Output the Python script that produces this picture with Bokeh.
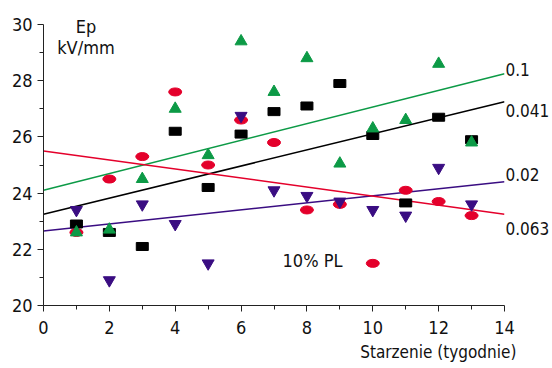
from bokeh.plotting import figure
from bokeh.models import FixedTicker, Label, Range1d, LinearAxis
from bokeh.embed import file_html
from bokeh.resources import INLINE

FONT = "Liberation Sans Narrow, DejaVu Sans Condensed, Roboto, sans-serif"

weeks = [1, 2, 3, 4, 5, 6, 7, 8, 9, 10, 11, 12, 13]
series_01 = [22.6, 22.7, 24.5, 27.0, 25.35, 29.4, 27.6, 28.8, 25.05, 26.3, 26.6, 28.6, 25.8]   # green triangles
series_0041 = [22.9, 22.6, 22.1, 26.2, 24.2, 26.1, 26.9, 27.1, 27.9, 26.05, 23.65, 26.7, 25.9]  # black squares
series_002 = [23.4, 20.9, 23.6, 22.9, 21.5, 26.75, 24.1, 23.9, 23.7, 23.4, 23.2, 24.9, 23.6]    # purple inverted triangles
series_0063 = [22.6, 24.5, 25.3, 27.6, 25.0, 26.6, 25.8, 23.4, 23.6, 21.5, 24.1, 23.7, 23.2]    # red ellipses

trend_x = [0, 14]
trend_01 = [24.1, 28.25]
trend_0041 = [23.25, 27.25]
trend_002 = [22.65, 24.4]
trend_0063 = [25.5, 23.25]

labels = ["0.1", "0.041", "0.02", "0.063"]
x_ticks = [0, 2, 4, 6, 8, 10, 12, 14]
y_ticks = [20, 22, 24, 26, 28, 30]

GREEN = "#0c9a46"
BLACK = "#000000"
PURPLE = "#3a0d82"
RED = "#e4002b"
TXT = "#111111"

p = figure(width=552, height=368, output_backend="svg", toolbar_location=None,
           x_range=Range1d(0, 14), y_range=Range1d(20, 30),
           min_border_left=43, min_border_right=47, min_border_top=24, min_border_bottom=63)
p.outline_line_color = None
p.xgrid.visible = False
p.ygrid.visible = False
p.background_fill_color = "white"
p.border_fill_color = "white"

for ax in (p.xaxis, p.yaxis):
    ax.axis_line_color = "#222222"
    ax.major_tick_line_color = "#222222"
    ax.minor_tick_line_color = "#222222"
    ax.major_tick_in = 0
    ax.minor_tick_in = 0
    ax.major_tick_out = 6
    ax.minor_tick_out = 4
    ax.major_label_text_font = FONT
    ax.major_label_text_font_size = "18px"
    ax.major_label_text_color = TXT

p.xaxis.ticker = FixedTicker(ticks=x_ticks, minor_ticks=[t + 1 for t in x_ticks[:-1]])
p.yaxis.ticker = FixedTicker(ticks=y_ticks, minor_ticks=[t + 1 for t in y_ticks[:-1]])
p.xaxis.major_label_standoff = 9
p.yaxis.major_label_standoff = 5


def text_axis(ticks, overrides, size, standoff):
    ax = LinearAxis(ticker=FixedTicker(ticks=ticks, minor_ticks=[]),
                    major_label_overrides=overrides)
    ax.axis_line_color = None
    ax.major_tick_line_color = None
    ax.minor_tick_line_color = None
    ax.major_tick_in = 0
    ax.major_tick_out = 0
    ax.minor_tick_in = 0
    ax.minor_tick_out = 0
    ax.major_label_standoff = standoff
    ax.major_label_text_font = FONT
    ax.major_label_text_font_size = size
    ax.major_label_text_color = TXT
    return ax


# line labels at the right end of the trend lines
label_pos = [28.4, 26.95, 24.65, 22.75]
right_ax = text_axis(label_pos, {v: t for v, t in zip(label_pos, labels)}, "17px", 1)
p.add_layout(right_ax, "right")

# x-axis title, right aligned under the axis
title_ax = text_axis([11.99], {11.99: "Starzenie (tygodnie)"}, "17px", 5)
p.add_layout(title_ax, "below")

# "Ep" at the top of the y axis
ep_ax = text_axis([1.29], {1.29: "Ep"}, "18px", -12)
p.add_layout(ep_ax, "above")

# trend lines
p.line(trend_x, trend_01, line_color=GREEN, line_width=1.5)
p.line(trend_x, trend_0041, line_color=BLACK, line_width=1.5)
p.line(trend_x, trend_002, line_color=PURPLE, line_width=1.5)
p.line(trend_x, trend_0063, line_color=RED, line_width=1.5)

# markers
p.ellipse(x=weeks, y=series_0063, width=13, height=8, width_units="screen", height_units="screen",
          fill_color=RED, line_color=RED)
p.rect(x=weeks, y=series_0041, width=12, height=8, width_units="screen", height_units="screen",
       fill_color=BLACK, line_color=BLACK)
p.scatter(x=weeks, y=series_002, marker="inverted_triangle", size=12,
          fill_color=PURPLE, line_color=PURPLE)
p.scatter(x=weeks, y=series_01, marker="triangle", size=12,
          fill_color=GREEN, line_color=GREEN)


def add_label(x, y, text, align="left", size="18px"):
    p.add_layout(Label(x=x, y=y, text=text, text_font=FONT, text_font_size=size,
                       text_align=align, text_baseline="middle", text_color=TXT))


add_label(1.29, 29.18, "kV/mm", align="center")
add_label(7.26, 21.6, "10% PL")

open("out.html", "w").write(file_html(p, INLINE))
